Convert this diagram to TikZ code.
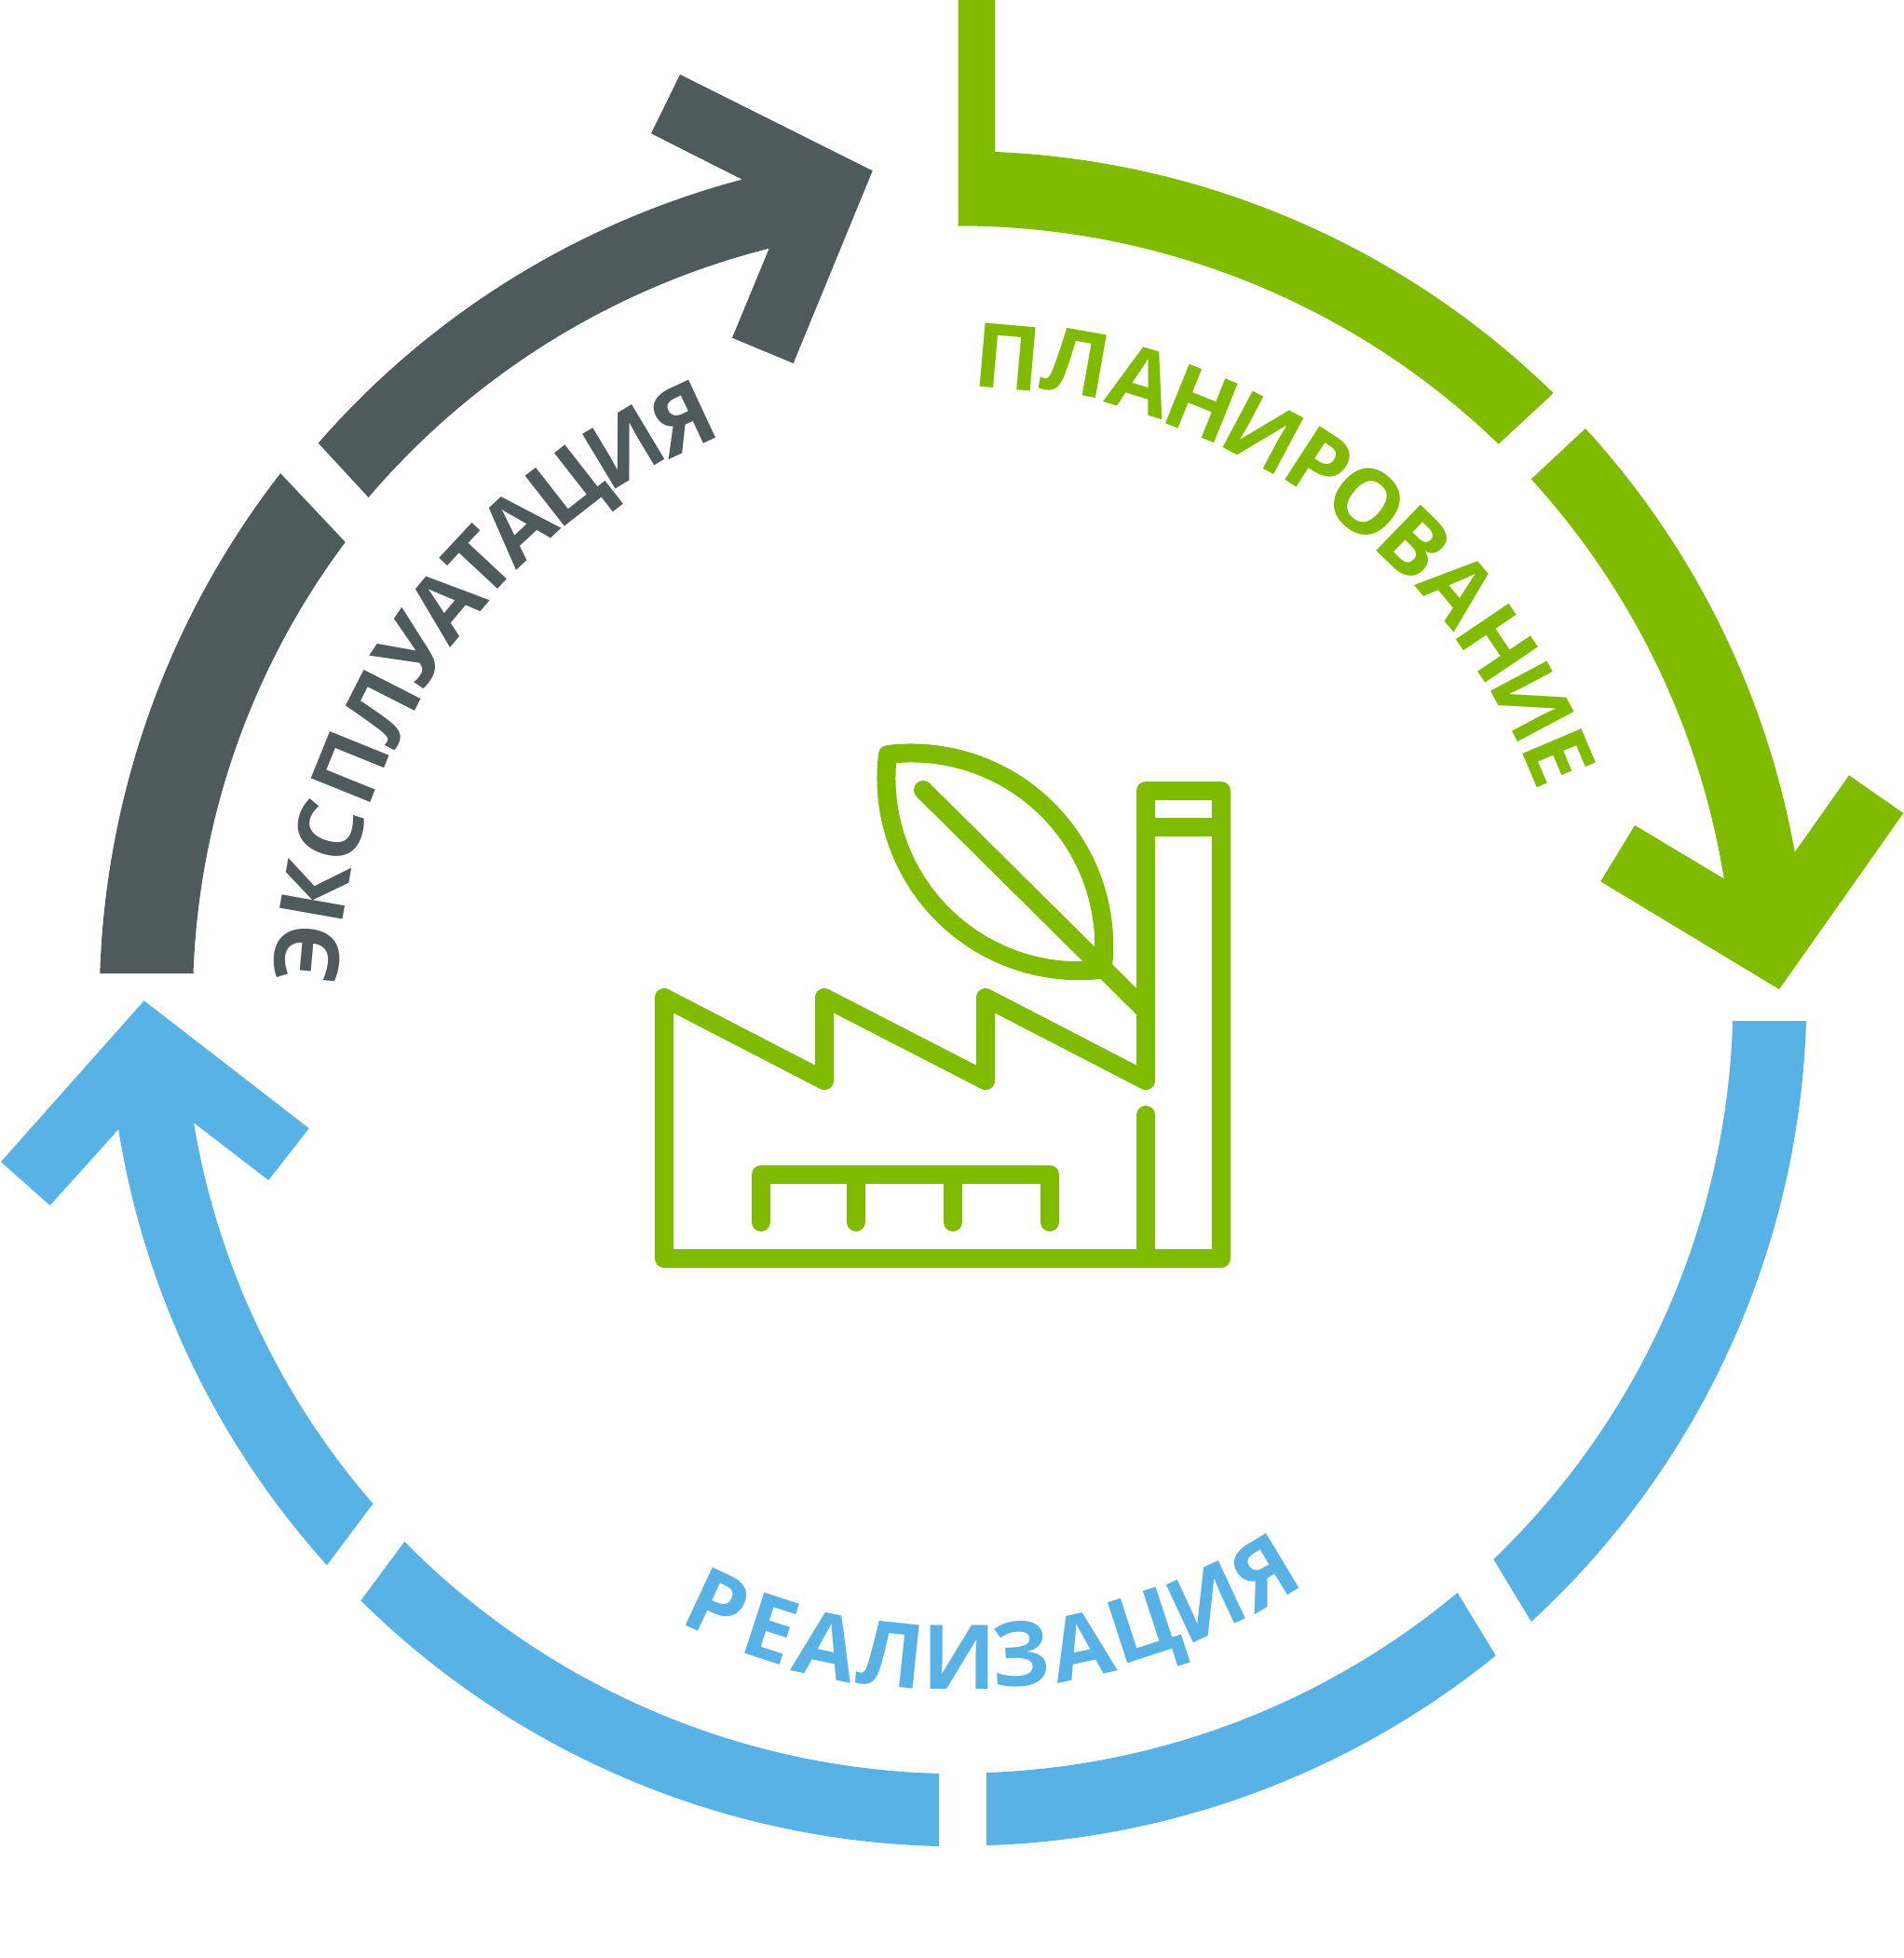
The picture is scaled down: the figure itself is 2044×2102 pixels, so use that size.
\documentclass[tikz,border=0pt]{standalone}
\usepackage{fontspec}
\newfontfamily\labb{Open Sans}[BoldFont={Open Sans Bold}]
\definecolor{cgreen}{HTML}{80BB00}
\definecolor{cgray}{HTML}{4E5A5B}
\definecolor{cblue}{HTML}{58B2E5}
\tikzset{
  glyphb/.style={inner sep=0pt,outer sep=0pt,text height=68pt,text depth=0pt,font=\labb\bfseries\fontsize{96}{96}\selectfont},
  icon/.style={draw=cgreen,line width=20pt,line join=round,line cap=round}
}
\begin{document}
\begin{tikzpicture}[x=1pt,y=1pt,yscale=-1]
\useasboundingbox (0,0) rectangle (2044,2102);
% green band
\fill[cgreen] (1028.7,0) -- (1068.3,0) -- (1068.3,163)
  arc[start angle=-87.6,end angle=-45.68,radius=912] -- (1666.3,423.3) -- (1608.7,476.7)
  arc[start angle=-45.96,end angle=-90.09,radius=833] -- (1028.7,241.3) -- cycle;
\fill[cgreen] (1702,460)
  arc[start angle=-42.46,end angle=-10.06,radius=911] -- (1926,916)
  -- (1985,832.3) -- (2043.3,873) -- (1910,1062) -- (1718.3,946.3) -- (1755,886) -- (1850.7,943.3)
  arc[start angle=-9.12,end angle=-42.4,radius=832] -- (1645,513.3) -- cycle;
% gray band
\fill[cgray] (107.3,1045)
  arc[start angle=-178.14,end angle=-142.12,radius=924] -- (300.7,507.7) -- (370.7,582)
  arc[start angle=-143.22,end angle=-177.91,radius=822.5] -- (209,1045) -- cycle;
\fill[cgray] (341.7,475.7)
  arc[start angle=-138.95,end angle=-104.85,radius=913] -- (796,192.3)
  -- (699,143.3) -- (730,80) -- (936.7,183.3) -- (851.7,390) -- (786,362.7) -- (825.7,266.7)
  arc[start angle=-104.18,end angle=-139.54,radius=834] -- (395.3,533.7) -- cycle;
% blue band
\fill[cblue] (1939,1096)
  arc[start angle=1.76,end angle=47.47,radius=914] -- (1645,1742.7) -- (1603.3,1674)
  arc[start angle=46.2,end angle=1.7,radius=835.5] -- (1860,1096) -- cycle;
\fill[cblue] (1605.7,1777.3)
  arc[start angle=50.94,end angle=88.18,radius=914] -- (1059,1982) -- (1059,1903)
  arc[start angle=88.01,end angle=50.2,radius=835] -- (1564.3,1709.3) -- cycle;
\fill[cblue] (1008,1982)
  arc[start angle=91.38,end angle=134.66,radius=914.3] -- (387.3,1718.3) -- (434.3,1655)
  arc[start angle=135.42,end angle=91.51,radius=836] -- (1008,1903) -- cycle;
\fill[cblue] (351,1680.3)
  arc[start angle=137.95,end angle=171,radius=913.5] -- (128.7,1210.7)
  -- (53.7,1294) -- (1,1247.3) -- (154.7,1074.3) -- (331.7,1211.3) -- (288.3,1267) -- (208,1205.3)
  arc[start angle=170.52,end angle=139.03,radius=834.5] -- (399,1616) -- cycle;
% factory icon
\draw[icon] (713,1351) -- (713,1071) -- (885,1160) -- (885,1071) -- (1058,1160) -- (1058,1071)
  -- (1230,1160) -- (1230,849) -- (1311,849) -- (1311,1351) -- cycle;
\draw[icon] (1230,888) -- (1311,888);
\draw[icon] (1230,1197) -- (1230,1351);
\draw[icon] (817,1312) -- (817,1261) -- (1127,1261) -- (1127,1312);
\draw[icon] (919,1261) -- (919,1312);
\draw[icon] (1023,1261) -- (1023,1312);
\draw[icon] (953,810) arc[start angle=-97,end angle=7,radius=207]
  arc[start angle=83,end angle=187,radius=207] -- cycle;
\draw[icon,line cap=butt] (991,848) -- (1230,1085);
\fill[cgreen] (991,848) circle[radius=10];
% labels
\foreach \c/\x/\y/\r [count=\i] in {
 П/1082/384/-5, Л/1156/389/-10, А/1226/409/-17, Н/1290/434/-22, И/1356/465/-28, Р/1416/498/-33,
 О/1468/539/-40, В/1518/583/-44, А/1566/632/-50, Н/1607/691/-56, И/1645/753/-62, Е/1673/813/-67}
  \node[glyphb,text=cgreen,rotate=\r] (plan\i) at (\x,\y) {\c};
\foreach \c/\x/\y/\r [count=\i] in {
 Э/330/1024/85, К/339/958/80, С/354/893/72, П/376/824/68, Л/409/759/63, У/443/697/56,
 А/479/648/50, Т/515/604/47, А/556/565/43, Ц/608/521/38, И/670/480/31, Я/733/449/25}
  \node[glyphb,text=cgray,rotate=\r] (expl\i) at (\x,\y) {\c};
\foreach \c/\x/\y/\r [count=\i] in {
 Р/770/1723/-25, Е/828/1748/-18, А/888/1767/-12, Л/957/1776/-6, И/1030/1779/0, З/1096/1776/3,
 А/1161/1767/12, Ц/1228/1745/18, И/1295/1720/25, Я/1357/1688/31}
  \node[glyphb,text=cblue,rotate=\r] (real\i) at (\x,\y) {\c};
\end{tikzpicture}
\end{document}
